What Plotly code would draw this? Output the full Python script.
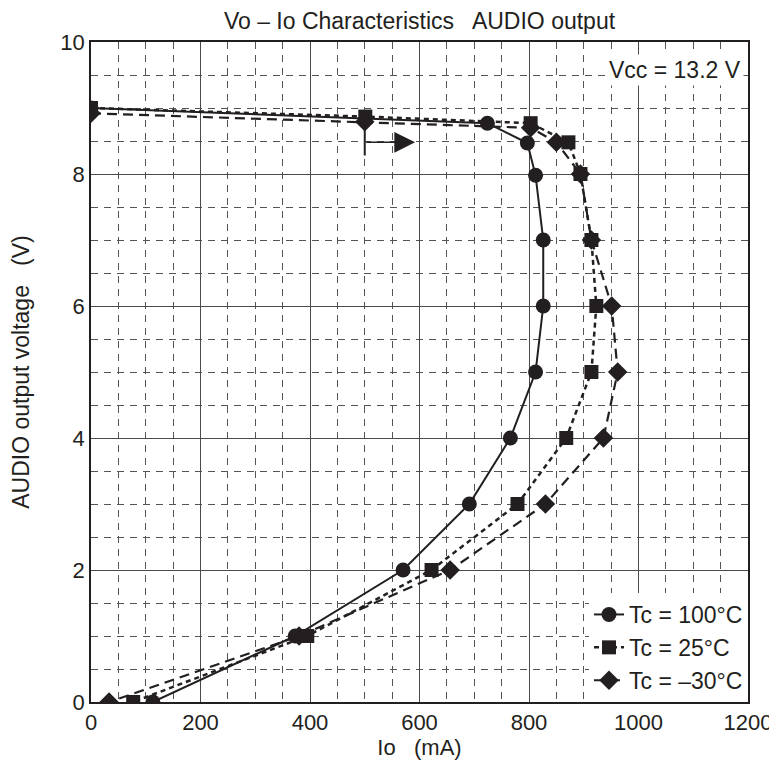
import plotly.graph_objects as go

# Data (Io in mA, Vo in V)
io_100 = [0, 724, 797, 812, 826, 826, 812, 766, 691, 570, 373, 113]
vo_100 = [9.0, 8.77, 8.47, 7.98, 7.0, 6.0, 5.0, 4.0, 3.0, 2.0, 1.0, 0.0]

io_25 = [0, 501, 803, 872, 894, 914, 923, 914, 868, 779, 622, 395, 77]
vo_25 = [9.0, 8.87, 8.77, 8.48, 8.0, 7.0, 6.0, 5.0, 4.0, 3.0, 2.0, 1.0, 0.0]

io_m30 = [0, 500, 803, 850, 894, 914, 951, 962, 936, 830, 656, 380, 33]
vo_m30 = [8.92, 8.79, 8.7, 8.48, 8.0, 7.0, 6.0, 5.0, 4.0, 3.0, 2.0, 1.0, 0.0]

x_ticks = [0, 200, 400, 600, 800, 1000, 1200]
y_ticks = [0, 2, 4, 6, 8, 10]

INK = "#231f20"
FONT = "Liberation Sans, Arial, sans-serif"

fig = go.Figure()
fig.add_trace(go.Scatter(
    x=io_100, y=vo_100, mode="lines+markers", name="Tc = 100°C",
    line=dict(color=INK, width=2), marker=dict(symbol="circle", size=15, color=INK),
    legendrank=1))
fig.add_trace(go.Scatter(
    x=io_m30, y=vo_m30, mode="lines+markers", name="Tc = –30°C",
    line=dict(color=INK, width=2.2, dash="10px,6px"),
    marker=dict(symbol="diamond", size=15, color=INK),
    legendrank=3))
fig.add_trace(go.Scatter(
    x=io_25, y=vo_25, mode="lines+markers", name="Tc = 25°C",
    line=dict(color=INK, width=2.5, dash="5px,4px"),
    marker=dict(symbol="square", size=14, color=INK),
    legendrank=2))

# arrow marker near 500 mA
fig.add_shape(type="line", x0=500, x1=500, y0=8.68, y1=8.28, xref="x", yref="y",
              line=dict(color=INK, width=2))
fig.add_annotation(x=592, y=8.48, ax=500, ay=8.48, xref="x", yref="y", axref="x", ayref="y",
                   showarrow=True, arrowhead=2, arrowsize=2.6, arrowwidth=1.6,
                   arrowcolor=INK, text="")

fig.add_annotation(x=1192, y=9.57, xref="x", yref="y", xanchor="right", yanchor="middle",
                   text="Vcc = 13.2 V", showarrow=False, bgcolor="white",
                   font=dict(family=FONT, size=23, color=INK), borderpad=2)

axis_common = dict(
    showline=True, linecolor=INK, linewidth=1.5, mirror=True,
    showgrid=True, gridcolor="#4a4a4a", gridwidth=1,
    ticks="", zeroline=False,
    tickfont=dict(family=FONT, size=22, color=INK),
)

fig.update_xaxes(
    range=[0, 1200], tickvals=x_ticks, ticktext=[str(v) for v in x_ticks],
    minor=dict(dtick=50, tick0=0, showgrid=True, gridcolor="#555555", gridwidth=1,
               griddash="7px,6px"),
    title=dict(text="Io   (mA)", font=dict(family=FONT, size=22, color=INK), standoff=2),
    **axis_common)
fig.update_yaxes(
    range=[0, 10], tickvals=y_ticks, ticktext=[str(v) for v in y_ticks],
    minor=dict(dtick=0.5, tick0=0, showgrid=True, gridcolor="#555555", gridwidth=1,
               griddash="7px,6px"),
    title=dict(text="AUDIO output voltage   (V)", font=dict(family=FONT, size=23, color=INK),
               standoff=24),
    **axis_common)

fig.update_layout(
    width=777, height=769,
    margin=dict(l=83, r=37, t=34, b=75, autoexpand=False),
    paper_bgcolor="white", plot_bgcolor="white",
    title=dict(text="Vo – Io Characteristics   AUDIO output", x=0.5, xref="paper",
               xanchor="center", y=0.983, yref="container", yanchor="middle",
               font=dict(family=FONT, size=23, color=INK)),
    showlegend=True,
    legend=dict(x=1, y=0, xanchor="right", yanchor="bottom", bgcolor="white",
                borderwidth=0, font=dict(family=FONT, size=23, color=INK),
                tracegroupgap=0),
)

fig.write_html("out.html")
